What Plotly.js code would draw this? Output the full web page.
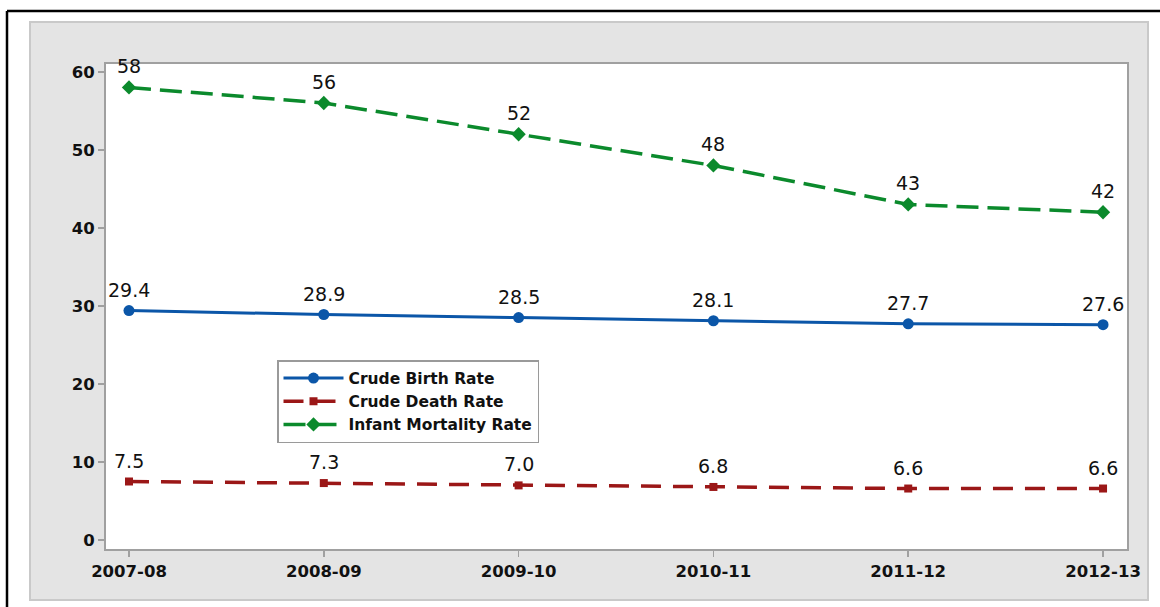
<!DOCTYPE html>
<html>
<head>
<meta charset="utf-8">
<script src="https://cdn.plot.ly/plotly-3.0.1.min.js"></script>
<style>html,body{margin:0;padding:0;background:#fff;}#chart{width:1160px;height:607px;}</style>
</head>
<body>
<div id="chart"></div>
<script>
const years = ["2007-08", "2008-09", "2009-10", "2010-11", "2011-12", "2012-13"];
const crudeBirthRate = [29.4, 28.9, 28.5, 28.1, 27.7, 27.6];
const crudeDeathRate = [7.5, 7.3, 7.0, 6.8, 6.6, 6.6];
const infantMortalityRate = [58, 56, 52, 48, 43, 42];
const birthLabels = ["29.4", "28.9", "28.5", "28.1", "27.7", "27.6"];
const deathLabels = ["7.5", "7.3", "7.0", "6.8", "6.6", "6.6"];
const infantLabels = ["58", "56", "52", "48", "43", "42"];
const yTicks = [0, 10, 20, 30, 40, 50, 60];

const blue = "#0b56a8", red = "#9b1717", green = "#0b8a2c";

const traces = [
  {x: years, y: crudeBirthRate, name: "Crude Birth Rate", type: "scatter", mode: "lines+markers",
   line: {color: blue, width: 3}, marker: {symbol: "circle", size: 11, color: blue}},
  {x: years, y: crudeDeathRate, name: "Crude Death Rate", type: "scatter", mode: "lines+markers",
   line: {color: red, width: 3.5, dash: "20px,12px"}, marker: {symbol: "square", size: 8, color: red}},
  {x: years, y: infantMortalityRate, name: "Infant Mortality Rate", type: "scatter", mode: "lines+markers",
   line: {color: green, width: 3.5, dash: "22px,9px"}, marker: {symbol: "diamond", size: 11, color: green}}
];

const labelFont = {family: "DejaVu Sans, Verdana, sans-serif", size: 19, color: "#111"};
const annotations = [];
[[crudeBirthRate, birthLabels], [crudeDeathRate, deathLabels], [infantMortalityRate, infantLabels]].forEach(([vals, labs]) => {
  vals.forEach((v, i) => annotations.push({x: years[i], y: v, xref: "x", yref: "y", text: labs[i],
    showarrow: false, yshift: 21, font: labelFont}));
});

// layout geometry (pixels)
const L = 106, R = 1127, T = 64, B = 549;
const W = R - L, H = B - T;
const px = x => (x - L) / W, py = y => (B - y) / H;

const layout = {
  width: 1160, height: 607,
  margin: {l: L, r: 1160 - R, t: T, b: 607 - B, pad: 0},
  paper_bgcolor: "#ffffff", plot_bgcolor: "rgba(0,0,0,0)",
  showlegend: true,
  legend: {x: px(277), y: py(360), xanchor: "left", yanchor: "top",
    bgcolor: "#ffffff", bordercolor: "#9a9a9a", borderwidth: 1.5,
    font: {family: "DejaVu Sans, Verdana, sans-serif", size: 15.5, color: "#111", weight: "bold"},
    itemwidth: 60, tracegroupgap: 0},
  xaxis: {type: "category", range: [-0.118, 5.123], showgrid: false, zeroline: false,
    showline: true, linecolor: "#a0a0a0", linewidth: 2, mirror: true,
    ticks: "outside", ticklen: 6, tickwidth: 1.5, tickcolor: "#a0a0a0",
    tickfont: {family: "DejaVu Sans, Verdana, sans-serif", size: 16.5, color: "#111", weight: "bold"}},
  yaxis: {range: [-1.15, 61.0], tickvals: yTicks, showgrid: false, zeroline: false,
    showline: true, linecolor: "#a0a0a0", linewidth: 2, mirror: true,
    ticks: "outside", ticklen: 6, tickwidth: 1.5, tickcolor: "#a0a0a0",
    tickfont: {family: "DejaVu Sans, Verdana, sans-serif", size: 16.5, color: "#111", weight: "bold"}},
  annotations: annotations,
  shapes: [
    {type: "rect", xref: "paper", yref: "paper", x0: px(30), x1: px(1148), y0: py(600), y1: py(22),
     fillcolor: "#e4e4e4", line: {color: "#c9c9c9", width: 2}, layer: "below"},
    {type: "rect", xref: "paper", yref: "paper", x0: 0, x1: 1, y0: 0, y1: 1,
     fillcolor: "#ffffff", line: {width: 0}, layer: "below"},
    {type: "line", xref: "paper", yref: "paper", x0: px(7), x1: px(7), y0: py(11), y1: py(640),
     line: {color: "#000", width: 2.5}},
    {type: "line", xref: "paper", yref: "paper", x0: px(7), x1: px(1200), y0: py(11), y1: py(11),
     line: {color: "#000", width: 2.5}}
  ]
};

Plotly.newPlot("chart", traces, layout, {displayModeBar: false, staticPlot: true});
</script>
</body>
</html>
